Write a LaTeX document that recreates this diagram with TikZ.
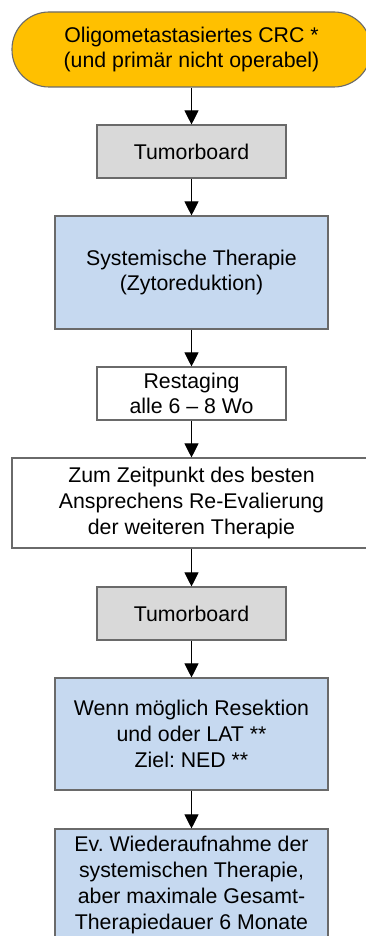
\documentclass[tikz,border=0pt]{standalone}
\usepackage{fontspec}
\setmainfont{Liberation Sans}
\frenchspacing
\usetikzlibrary{arrows.meta}
\definecolor{termfill}{HTML}{FFC000}
\definecolor{boardfill}{HTML}{D9D9D9}
\definecolor{therfill}{HTML}{C6D9F0}
\definecolor{edgegray}{HTML}{6A6A6A}
\begin{document}
\begin{tikzpicture}[x=1pt,y=1pt,
  base/.style={draw=edgegray,line width=1.1pt,align=center,inner sep=0pt,
    font=\fontsize{21.3}{25.7}\selectfont,text=black},
  terminal/.style={base,fill=termfill,rounded corners=37pt},
  board/.style={base,fill=boardfill},
  therapy/.style={base,fill=therfill},
  plainbox/.style={base,fill=white},
  flow/.style={draw=black,line width=0.9pt,-{Triangle[width=14pt,length=14pt]}}]
\useasboundingbox (0,0) rectangle (366,-936);
\fill[white] (0,0) rectangle (366,-936);

\node[terminal,minimum width=359pt,minimum height=75pt] (start) at (191.5,-49.5)
  {Oligometastasiertes CRC *\\(und primär nicht operabel)};
\node[board,minimum width=189pt,minimum height=53pt] (tb1) at (191.5,-151.5) {Tumorboard};
\node[therapy,minimum width=273pt,minimum height=113pt] (sys) at (191.5,-272.5)
  {Systemische Therapie\\(Zytoreduktion)};
\node[plainbox,minimum width=189pt,minimum height=53pt] (rest) at (191.5,-393.5)
  {Restaging\\alle 6 – 8 Wo};
\node[plainbox,minimum width=359pt,minimum height=90pt] (eval) at (191.5,-503)
  {Zum Zeitpunkt des besten\\Ansprechens Re-Evalierung\\der weiteren Therapie};
\node[board,minimum width=189pt,minimum height=53pt] (tb2) at (191.5,-613.5) {Tumorboard};
\node[therapy,minimum width=273pt,minimum height=112pt] (res) at (191.5,-734)
  {Wenn möglich Resektion\\und oder LAT **\\Ziel: NED **};
\node[therapy,minimum width=273pt,minimum height=112pt] (resume) at (191.5,-885)
  {Ev. Wiederaufnahme der\\systemischen Therapie,\\aber maximale Gesamt-\\Therapiedauer 6 Monate};

\draw[flow] (start) -- (tb1);
\draw[flow] (tb1) -- (sys);
\draw[flow] (sys) -- (rest);
\draw[flow] (rest) -- (eval);
\draw[flow] (eval) -- (tb2);
\draw[flow] (tb2) -- (res);
\draw[flow] (res) -- (resume);
\end{tikzpicture}
\end{document}
